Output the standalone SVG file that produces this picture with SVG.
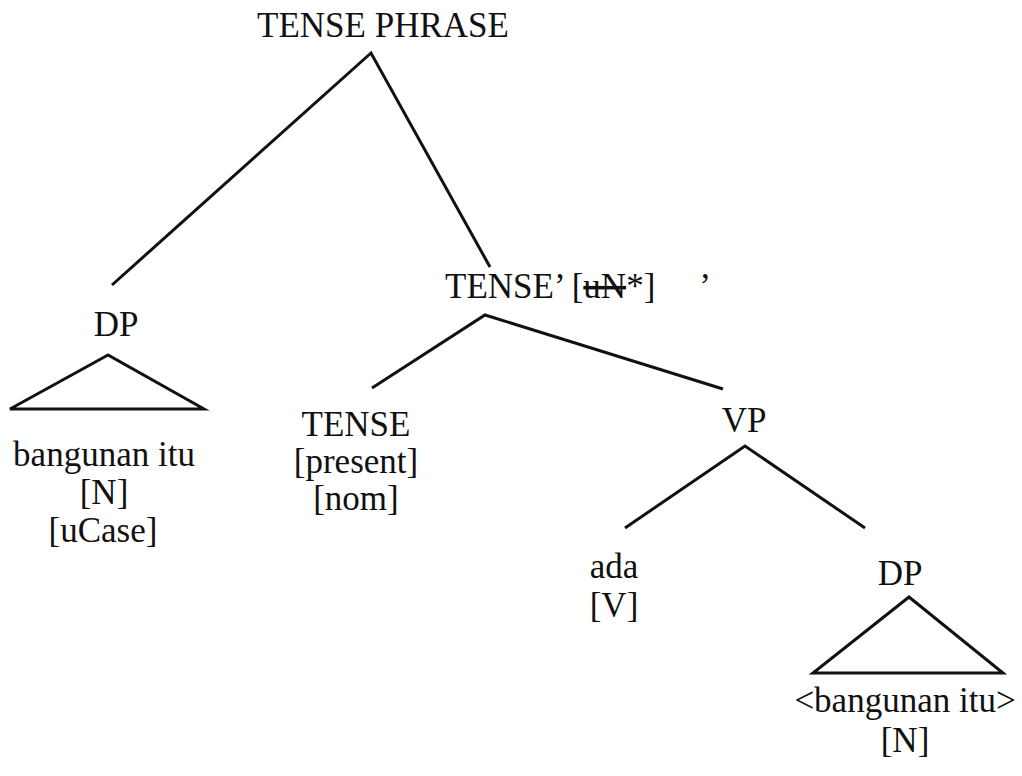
<svg xmlns="http://www.w3.org/2000/svg" width="1022" height="776" viewBox="0 0 1022 776">
<style>
text{font-family:'Liberation Serif','Times New Roman',serif;font-size:35px;fill:#111;text-anchor:middle}
.l{fill:none;stroke:#111;stroke-width:3;stroke-linejoin:miter}
.s{text-decoration:line-through}
</style>
<rect width="1022" height="776" fill="#fff"/>
<g id="connectors">
<polyline class="l" points="112,285 371,53 490,267"/>
<polyline class="l" points="372,388 485,315 723,389"/>
<polyline class="l" points="625,528 745,446 865,528"/>
</g>
<g id="tp"><text x="383" y="37">TENSE PHRASE</text></g>
<g id="dp1">
<text x="116" y="336">DP</text>
<polygon class="l" points="108,355 10,409 204,409"/>
<text x="104" y="466">bangunan itu</text>
<text x="104" y="504">[N]</text>
<text x="103" y="542">[uCase]</text>
</g>
<g id="tbar">
<text x="445" y="298" style="text-anchor:start">TENSE’ [<tspan class="s">uN</tspan>*]</text>
<text x="705" y="298">’</text>
</g>
<g id="tense">
<text x="356" y="436">TENSE</text>
<text x="356" y="473">[present]</text>
<text x="356" y="510">[nom]</text>
</g>
<g id="vp"><text x="744" y="432">VP</text></g>
<g id="ada">
<text x="614" y="578">ada</text>
<text x="614" y="617">[V]</text>
</g>
<g id="dp2">
<text x="900" y="585">DP</text>
<polygon class="l" points="909,597 813,673 1003,673"/>
<text x="905" y="712">&lt;bangunan itu&gt;</text>
<text x="905" y="752">[N]</text>
</g>
</svg>
